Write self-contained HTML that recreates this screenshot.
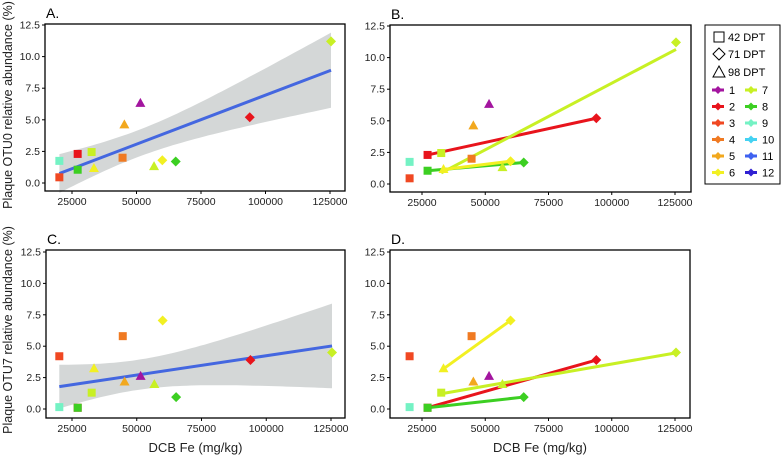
<!DOCTYPE html>
<html><head><meta charset="utf-8">
<style>
body{margin:0;background:#fff;}
svg{display:block;font-family:"Liberation Sans",Arial,sans-serif;}
</style></head>
<body>
<svg id="chart" width="781" height="459" viewBox="0 0 781 459"></svg>
<script>
// ---- data ----
const groupColors = ["#a3159f","#e8141c","#f04822","#f07a22","#f2a81e","#f2f022","#c8f024","#3ccf22","#74f2c4","#44d2f2","#3f62f0","#3020d2"];
const groupLabels = ["1","2","3","4","5","6","7","8","9","10","11","12"];
const pointGroup = [9,3,2,8,7,6,4,5,1,7,6,8,2,7];
const pointShape = ["s","s","s","s","s","t","s","t","t","t","d","d","d","d"];
const dcbFe = [20100,20100,27200,27200,32600,33500,44600,45300,51500,56800,60000,65200,93900,125400];
const otu0 = [1.75,0.45,2.3,1.05,2.45,1.15,2.0,4.6,6.3,1.3,1.8,1.7,5.2,11.2];
const otu7 = [0.15,4.2,0.1,0.1,1.3,3.2,5.8,2.15,2.6,1.95,7.05,0.95,3.9,4.5];
const xTicks = [25000,50000,75000,100000,125000];
const yTicks = [0,2.5,5,7.5,10,12.5];
const yTickLabels = ["0.0","2.5","5.0","7.5","10.0","12.5"];
const lineGroupsTop = [2,7,8,6];
const lineGroupsBottom = [6,2,7,8];

const svg = document.getElementById('chart');
const NS = "http://www.w3.org/2000/svg";
function mk(tag, attrs, parent){const e=document.createElementNS(NS,tag);for(const k in attrs)e.setAttribute(k,attrs[k]);(parent||svg).appendChild(e);return e;}

function panel(p){
  const g = mk('g',{});
  
  
  const xS = v => p.x0 + (v-25000)/100000*(p.x1-p.x0);
  const yS = v => p.y0 - v/12.5*(p.y0-p.y1);
  const ys = p.ys;
  // regression (overall with CI)
  if(p.overall){
    const n=dcbFe.length; const mx=dcbFe.reduce((a,b)=>a+b)/n; const my=ys.reduce((a,b)=>a+b)/n;
    let sxx=0,sxy=0; for(let i=0;i<n;i++){sxx+=(dcbFe[i]-mx)**2;sxy+=(dcbFe[i]-mx)*(ys[i]-my);}
    const b=sxy/sxx,a=my-b*mx; let sse=0; for(let i=0;i<n;i++)sse+=(ys[i]-a-b*dcbFe[i])**2;
    const s=Math.sqrt(sse/(n-2)), t=2.179;
    const xmin=Math.min(...dcbFe), xmax=Math.max(...dcbFe);
    let up=[],lo=[];
    for(let k=0;k<=60;k++){const x=xmin+(xmax-xmin)*k/60;const f=a+b*x;const se=s*Math.sqrt(1/n+(x-mx)**2/sxx);
      up.push(xS(x).toFixed(1)+','+yS(f+t*se).toFixed(1));lo.unshift(xS(x).toFixed(1)+','+yS(f-t*se).toFixed(1));}
    const band=mk('polygon',{points:up.concat(lo).join(' '),fill:'#cfd3d3',opacity:0.9},g);
    
    
    const ln=mk('line',{x1:xS(xmin),y1:yS(a+b*xmin),x2:xS(xmax),y2:yS(a+b*xmax),stroke:'#4467e0','stroke-width':3},g);
    
    
  }
  if(p.groups){
    p.groups.forEach(gr=>{
      const idx=[];pointGroup.forEach((v,i)=>{if(v===gr)idx.push(i);});
      const xs=idx.map(i=>dcbFe[i]), yv=idx.map(i=>ys[i]); const n=xs.length;
      const mx=xs.reduce((a,b)=>a+b)/n,my=yv.reduce((a,b)=>a+b)/n;let sxx=0,sxy=0;
      for(let i=0;i<n;i++){sxx+=(xs[i]-mx)**2;sxy+=(xs[i]-mx)*(yv[i]-my);}
      const b=sxy/sxx,a=my-b*mx;const x0=Math.min(...xs),x1=Math.max(...xs);
      const ln=mk('line',{x1:xS(x0),y1:yS(a+b*x0),x2:xS(x1),y2:yS(a+b*x1),stroke:groupColors[gr-1],'stroke-width':3},g);
      
      
    });
  }
  // points
  dcbFe.forEach((xv,i)=>{
    const cx=xS(xv),cy=yS(ys[i]),c=groupColors[pointGroup[i]-1];let e;
    if(pointShape[i]==='s') e=mk('rect',{x:cx-4,y:cy-4,width:8,height:8,fill:c},g);
    else if(pointShape[i]==='d') e=mk('polygon',{points:`${cx},${cy-5} ${cx+5},${cy} ${cx},${cy+5} ${cx-5},${cy}`,fill:c},g);
    else e=mk('polygon',{points:`${cx},${cy-5.5} ${cx+5},${cy+3.5} ${cx-5},${cy+3.5}`,fill:c},g);
    
    
  });
  const box=mk('rect',{x:p.bx0,y:p.by0,width:p.bx1-p.bx0,height:p.by1-p.by0,fill:'none',stroke:'#000','stroke-width':1.3},g);
  
  
  yTicks.forEach((v,i)=>{
    mk('line',{x1:p.bx0-3,x2:p.bx0,y1:yS(v),y2:yS(v),stroke:'#000'},g);
    const t=mk('text',{x:p.bx0-5,y:yS(v)+3.5,'text-anchor':'end','font-size':10.5,fill:'#222'},g);
    t.textContent=yTickLabels[i];
    
    
  });
  xTicks.forEach(v=>{
    mk('line',{x1:xS(v),x2:xS(v),y1:p.by1,y2:p.by1+3,stroke:'#000'},g);
    const t=mk('text',{x:xS(v),y:p.by1+14,'text-anchor':'middle','font-size':10.5,fill:'#222'},g);
    t.textContent=v;
    
    
  });
  const lab=mk('text',{x:p.bx0+1,y:p.by0-6,'font-size':14,fill:'#000'},g);
  lab.textContent=p.label;
  
  
  if(p.xtitle){const t=mk('text',{x:(p.bx0+p.bx1)/2,y:452,'text-anchor':'middle','font-size':13,fill:'#222'},g);t.textContent='DCB Fe (mg/kg)';
    
    }
}

panel({name:'panel-a',label:'A.',x0:72,x1:330,y0:183,y1:25,bx0:45,bx1:345,by0:24,by1:191,ys:otu0,overall:true});
panel({name:'panel-b',label:'B.',x0:422,x1:675,y0:184,y1:26,bx0:390,bx1:691,by0:25,by1:192,ys:otu0,groups:lineGroupsTop});
panel({name:'panel-c',label:'C.',x0:72,x1:331,y0:409,y1:252,bx0:46,bx1:345,by0:250,by1:418,ys:otu7,overall:true,xtitle:true});
panel({name:'panel-d',label:'D.',x0:422,x1:675,y0:409,y1:252,bx0:390,bx1:690,by0:250,by1:418,ys:otu7,groups:lineGroupsBottom,xtitle:true});

// y-axis titles
[["Plaque OTU0 relative abundance (%)",105],["Plaque OTU7 relative abundance (%)",330]].forEach(([s,cy])=>{
  const t=mk('text',{x:0,y:0,transform:`translate(12,${cy}) rotate(-90)`,'text-anchor':'middle','font-size':12.5,fill:'#222'});
  t.textContent=s;
  
  
});

// legend
const lg=mk('g',{});


mk('rect',{x:705,y:25,width:75,height:159,fill:'#fff',stroke:'#000','stroke-width':1},lg);
[["s","42 DPT",37],["d","71 DPT",54],["t","98 DPT",72]].forEach(([sh,l,y])=>{
  const cx=719;let e;
  if(sh==='s') e=mk('rect',{x:cx-5,y:y-5,width:10,height:10,fill:'none',stroke:'#000'},lg);
  else if(sh==='d') e=mk('polygon',{points:`${cx},${y-6} ${cx+6},${y} ${cx},${y+6} ${cx-6},${y}`,fill:'none',stroke:'#000'},lg);
  else e=mk('polygon',{points:`${cx},${y-6} ${cx+6},${y+5} ${cx-6},${y+5}`,fill:'none',stroke:'#000'},lg);
  const t=mk('text',{x:728,y:y+4,'font-size':11,fill:'#000'},lg);t.textContent=l;
  
  
});
groupLabels.forEach((l,i)=>{
  const col=i<6?0:1,row=i%6;const x=col?751:718,y=90+row*16.5;
  mk('line',{x1:x-6,x2:x+6,y1:y,y2:y,stroke:groupColors[i],'stroke-width':3},lg);
  mk('polygon',{points:`${x},${y-4} ${x+4},${y} ${x},${y+4} ${x-4},${y}`,fill:groupColors[i]},lg);
  const t=mk('text',{x:x+11,y:y+4,'font-size':11,fill:'#000'},lg);t.textContent=l;
  
  
});
</script>
</body></html>
